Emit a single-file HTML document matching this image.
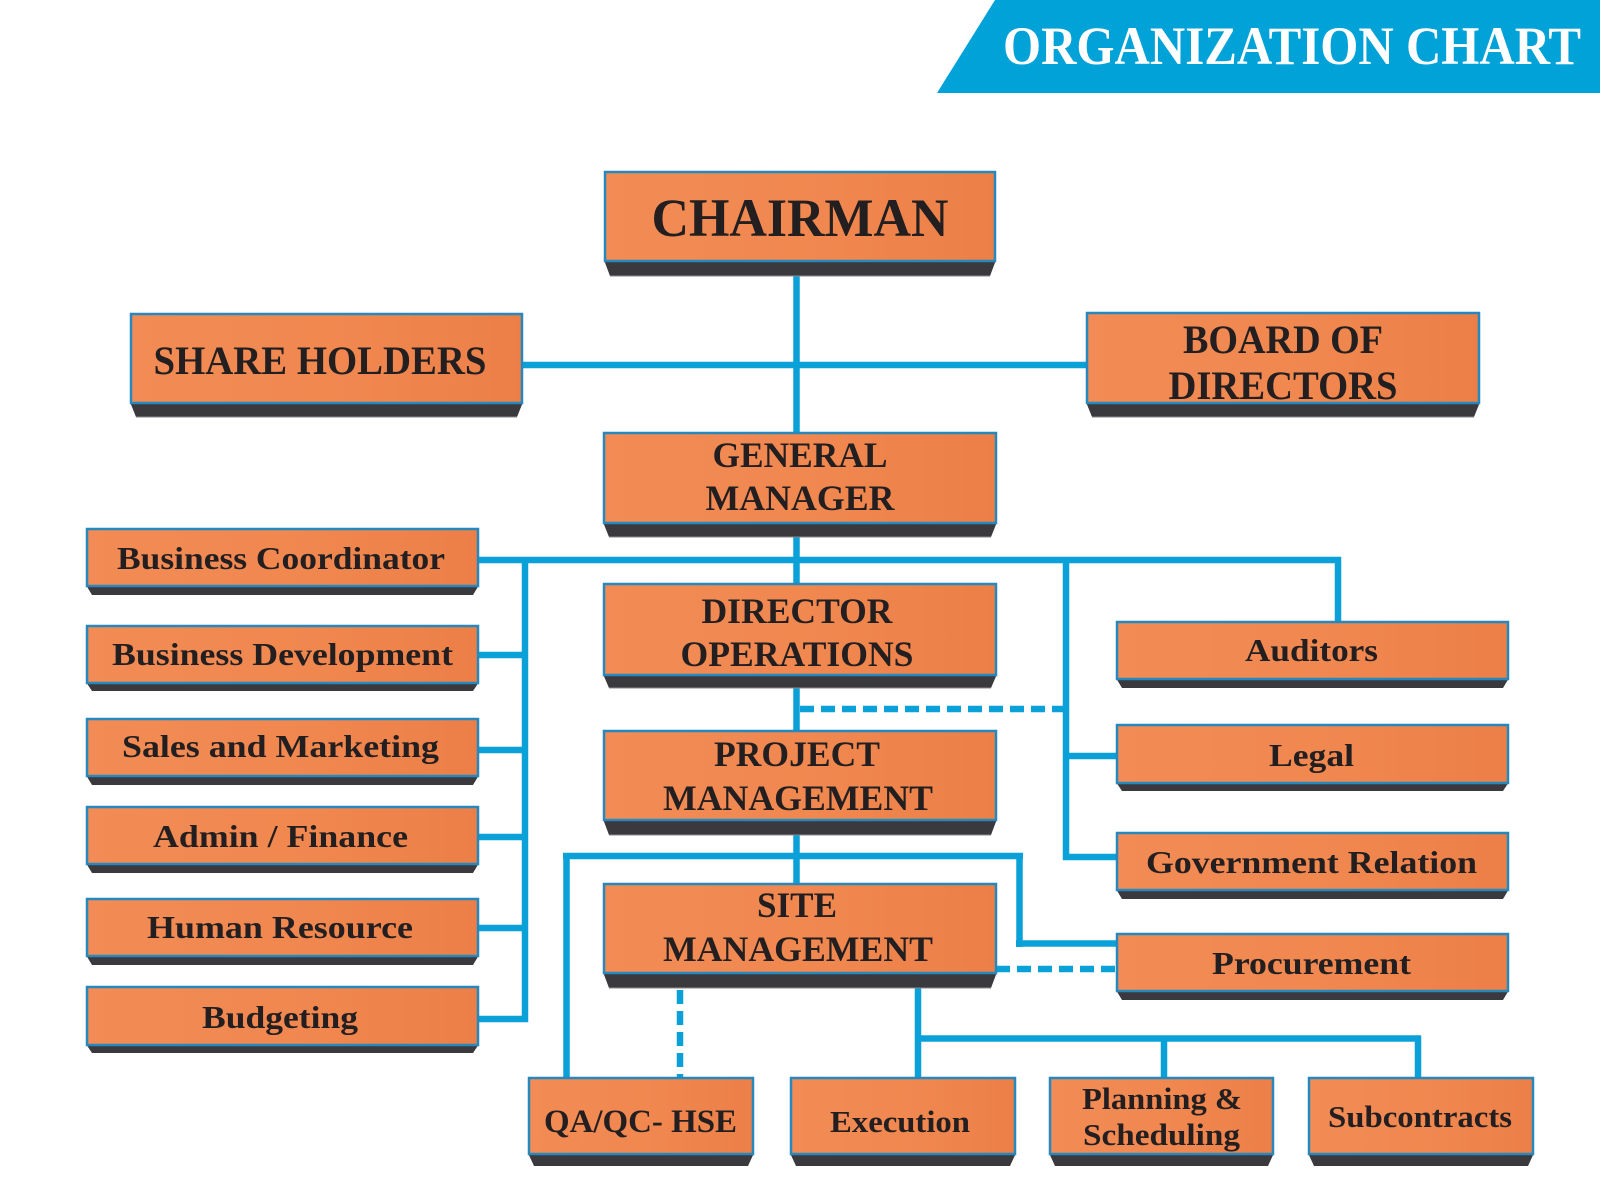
<!DOCTYPE html>
<html>
<head>
<meta charset="utf-8">
<style>
  html,body{margin:0;padding:0;background:#fff;}
  svg{display:block;}
  .t{font-family:"Liberation Serif","Times New Roman",serif;font-weight:bold;fill:#231f20;text-anchor:middle;}
</style>
</head>
<body>
<svg width="1600" height="1200" viewBox="0 0 1600 1200" xmlns="http://www.w3.org/2000/svg">
  <defs>
    <linearGradient id="og" x1="0" y1="0" x2="1" y2="0">
      <stop offset="0" stop-color="#f28b55"/>
      <stop offset="0.6" stop-color="#f0874f"/>
      <stop offset="1" stop-color="#eb7f47"/>
    </linearGradient>
  </defs>
  <rect width="1600" height="1200" fill="#ffffff"/>

  <!-- Banner -->
  <polygon points="995,0 1600,0 1600,93 937,93" fill="#00a2d8"/>
  <text x="1003" y="64" font-family="Liberation Serif, serif" font-weight="bold" font-size="54" fill="#ffffff" textLength="578" lengthAdjust="spacingAndGlyphs">ORGANIZATION CHART</text>

  <!-- Connectors (solid) -->
  <g stroke="#0aa0d8" stroke-width="6.5" fill="none" stroke-linecap="butt">
    <!-- central spine -->
    <line x1="796.5" y1="270" x2="796.5" y2="888"/>
    <!-- shareholders - board -->
    <line x1="520" y1="365" x2="1090" y2="365"/>
    <!-- business line -->
    <line x1="476" y1="560" x2="1341" y2="560"/>
    <line x1="1338" y1="557" x2="1338" y2="624"/>
    <!-- left column -->
    <line x1="525" y1="557" x2="525" y2="1022"/>
    <line x1="476" y1="655" x2="528" y2="655"/>
    <line x1="476" y1="750" x2="528" y2="750"/>
    <line x1="476" y1="837" x2="528" y2="837"/>
    <line x1="476" y1="928" x2="528" y2="928"/>
    <line x1="476" y1="1019" x2="528" y2="1019"/>
    <!-- right column -->
    <line x1="1066" y1="557" x2="1066" y2="860"/>
    <line x1="1063" y1="756" x2="1119" y2="756"/>
    <line x1="1063" y1="857" x2="1119" y2="857"/>
    <!-- project management branch -->
    <line x1="563" y1="856" x2="1023" y2="856"/>
    <line x1="566.5" y1="853" x2="566.5" y2="1080"/>
    <line x1="1019.5" y1="853" x2="1019.5" y2="947"/>
    <line x1="1016" y1="943.5" x2="1119" y2="943.5"/>
    <!-- site management branch -->
    <line x1="918" y1="986" x2="918" y2="1080"/>
    <line x1="915" y1="1038.5" x2="1421" y2="1038.5"/>
    <line x1="1164" y1="1036" x2="1164" y2="1080"/>
    <line x1="1418" y1="1036" x2="1418" y2="1080"/>
  </g>
  <!-- Connectors (dashed) -->
  <g stroke="#0aa0d8" stroke-width="6.5" fill="none" stroke-dasharray="14 7">
    <line x1="800" y1="709" x2="1063" y2="709"/>
    <line x1="996" y1="969" x2="1117" y2="969"/>
    <line x1="680" y1="990" x2="680" y2="1078"/>
  </g>

  <!-- Box template: slab then rect -->
  <!-- CHAIRMAN -->
  <g>
    <polygon points="604,260 996,260 990,276 610,276" fill="#3a393e"/>
    <line x1="610" y1="276" x2="990" y2="276" stroke="#8a8a8e" stroke-width="1"/>
    <rect x="605" y="172" width="390" height="89" fill="url(#og)" stroke="#2688bd" stroke-width="2.5"/>
    <text class="t" x="800" y="236" font-size="54" textLength="297" lengthAdjust="spacingAndGlyphs">CHAIRMAN</text>
  </g>
  <!-- SHARE HOLDERS -->
  <g>
    <polygon points="130,402 523,402 517,417 136,417" fill="#3a393e"/>
    <line x1="136" y1="417" x2="517" y2="417" stroke="#8a8a8e" stroke-width="1"/>
    <rect x="131" y="314" width="391" height="89" fill="url(#og)" stroke="#2688bd" stroke-width="2.5"/>
    <text class="t" x="320" y="374" font-size="40" textLength="333" lengthAdjust="spacingAndGlyphs">SHARE HOLDERS</text>
  </g>
  <!-- BOARD OF DIRECTORS -->
  <g>
    <polygon points="1086,402 1480,402 1474,417 1092,417" fill="#3a393e"/>
    <line x1="1092" y1="417" x2="1474" y2="417" stroke="#8a8a8e" stroke-width="1"/>
    <rect x="1087" y="313" width="392" height="90" fill="url(#og)" stroke="#2688bd" stroke-width="2.5"/>
    <text class="t" x="1283" y="353" font-size="40" textLength="200" lengthAdjust="spacingAndGlyphs">BOARD OF</text>
    <text class="t" x="1283" y="399" font-size="40" textLength="229" lengthAdjust="spacingAndGlyphs">DIRECTORS</text>
  </g>
  <!-- GENERAL MANAGER -->
  <g>
    <polygon points="603,522 997,522 991,537 609,537" fill="#3a393e"/>
    <line x1="609" y1="537" x2="991" y2="537" stroke="#8a8a8e" stroke-width="1"/>
    <rect x="604" y="433" width="392" height="90" fill="url(#og)" stroke="#2688bd" stroke-width="2.5"/>
    <text class="t" x="800" y="467" font-size="36" textLength="175" lengthAdjust="spacingAndGlyphs">GENERAL</text>
    <text class="t" x="800" y="510" font-size="36" textLength="189" lengthAdjust="spacingAndGlyphs">MANAGER</text>
  </g>
  <!-- DIRECTOR OPERATIONS -->
  <g>
    <polygon points="603,674 997,674 991,688 609,688" fill="#3a393e"/>
    <line x1="609" y1="688" x2="991" y2="688" stroke="#8a8a8e" stroke-width="1"/>
    <rect x="604" y="584" width="392" height="91" fill="url(#og)" stroke="#2688bd" stroke-width="2.5"/>
    <text class="t" x="797" y="623" font-size="36" textLength="191" lengthAdjust="spacingAndGlyphs">DIRECTOR</text>
    <text class="t" x="797" y="666" font-size="36" textLength="233" lengthAdjust="spacingAndGlyphs">OPERATIONS</text>
  </g>
  <!-- PROJECT MANAGEMENT -->
  <g>
    <polygon points="603,819 997,819 991,835 609,835" fill="#3a393e"/>
    <line x1="609" y1="835" x2="991" y2="835" stroke="#8a8a8e" stroke-width="1"/>
    <rect x="604" y="731" width="392" height="89" fill="url(#og)" stroke="#2688bd" stroke-width="2.5"/>
    <text class="t" x="797" y="766" font-size="36" textLength="166" lengthAdjust="spacingAndGlyphs">PROJECT</text>
    <text class="t" x="798" y="810" font-size="36" textLength="270" lengthAdjust="spacingAndGlyphs">MANAGEMENT</text>
  </g>
  <!-- SITE MANAGEMENT -->
  <g>
    <polygon points="603,972 997,972 991,988 609,988" fill="#3a393e"/>
    <line x1="609" y1="988" x2="991" y2="988" stroke="#8a8a8e" stroke-width="1"/>
    <rect x="604" y="884" width="392" height="89" fill="url(#og)" stroke="#2688bd" stroke-width="2.5"/>
    <text class="t" x="797" y="917" font-size="36" textLength="80" lengthAdjust="spacingAndGlyphs">SITE</text>
    <text class="t" x="798" y="961" font-size="36" textLength="270" lengthAdjust="spacingAndGlyphs">MANAGEMENT</text>
  </g>

  <!-- Left column -->
  <g>
    <polygon points="86,585 479,585 473,595 92,595" fill="#3a393e"/>
    <rect x="87" y="529" width="391" height="57" fill="url(#og)" stroke="#2688bd" stroke-width="2.5"/>
    <text class="t" x="281" y="569" font-size="32" textLength="328" lengthAdjust="spacingAndGlyphs">Business Coordinator</text>
  </g>
  <g>
    <polygon points="86,682 479,682 473,691 92,691" fill="#3a393e"/>
    <rect x="87" y="626" width="391" height="57" fill="url(#og)" stroke="#2688bd" stroke-width="2.5"/>
    <text class="t" x="282.5" y="665" font-size="32" textLength="341" lengthAdjust="spacingAndGlyphs">Business Development</text>
  </g>
  <g>
    <polygon points="86,775 479,775 473,785 92,785" fill="#3a393e"/>
    <rect x="87" y="719" width="391" height="57" fill="url(#og)" stroke="#2688bd" stroke-width="2.5"/>
    <text class="t" x="280.5" y="757" font-size="32" textLength="317" lengthAdjust="spacingAndGlyphs">Sales and Marketing</text>
  </g>
  <g>
    <polygon points="86,863 479,863 473,873 92,873" fill="#3a393e"/>
    <rect x="87" y="807" width="391" height="57" fill="url(#og)" stroke="#2688bd" stroke-width="2.5"/>
    <text class="t" x="280.5" y="847" font-size="32" textLength="255" lengthAdjust="spacingAndGlyphs">Admin / Finance</text>
  </g>
  <g>
    <polygon points="86,955 479,955 473,965 92,965" fill="#3a393e"/>
    <rect x="87" y="899" width="391" height="57" fill="url(#og)" stroke="#2688bd" stroke-width="2.5"/>
    <text class="t" x="280" y="938" font-size="32" textLength="266" lengthAdjust="spacingAndGlyphs">Human Resource</text>
  </g>
  <g>
    <polygon points="86,1044 479,1044 473,1053 92,1053" fill="#3a393e"/>
    <rect x="87" y="987" width="391" height="58" fill="url(#og)" stroke="#2688bd" stroke-width="2.5"/>
    <text class="t" x="280" y="1028" font-size="32" textLength="156" lengthAdjust="spacingAndGlyphs">Budgeting</text>
  </g>

  <!-- Right column -->
  <g>
    <polygon points="1116,678 1509,678 1503,688 1122,688" fill="#3a393e"/>
    <rect x="1117" y="622" width="391" height="57" fill="url(#og)" stroke="#2688bd" stroke-width="2.5"/>
    <text class="t" x="1311.5" y="661" font-size="32" textLength="133" lengthAdjust="spacingAndGlyphs">Auditors</text>
  </g>
  <g>
    <polygon points="1116,782 1509,782 1503,791 1122,791" fill="#3a393e"/>
    <rect x="1117" y="725" width="391" height="58" fill="url(#og)" stroke="#2688bd" stroke-width="2.5"/>
    <text class="t" x="1311.5" y="766" font-size="32" textLength="85" lengthAdjust="spacingAndGlyphs">Legal</text>
  </g>
  <g>
    <polygon points="1116,889 1509,889 1503,899 1122,899" fill="#3a393e"/>
    <rect x="1117" y="833" width="391" height="57" fill="url(#og)" stroke="#2688bd" stroke-width="2.5"/>
    <text class="t" x="1311.5" y="873" font-size="32" textLength="331" lengthAdjust="spacingAndGlyphs">Government Relation</text>
  </g>
  <g>
    <polygon points="1116,990 1509,990 1503,1000 1122,1000" fill="#3a393e"/>
    <rect x="1117" y="934" width="391" height="57" fill="url(#og)" stroke="#2688bd" stroke-width="2.5"/>
    <text class="t" x="1311.5" y="974" font-size="32" textLength="199" lengthAdjust="spacingAndGlyphs">Procurement</text>
  </g>

  <!-- Bottom row -->
  <g>
    <polygon points="528,1153 754,1153 748,1166 534,1166" fill="#3a393e"/>
    <rect x="529" y="1078" width="224" height="76" fill="url(#og)" stroke="#2688bd" stroke-width="2.5"/>
    <text class="t" x="640.5" y="1132" font-size="33" textLength="193" lengthAdjust="spacingAndGlyphs">QA/QC- HSE</text>
  </g>
  <g>
    <polygon points="790,1153 1016,1153 1010,1166 796,1166" fill="#3a393e"/>
    <rect x="791" y="1078" width="224" height="76" fill="url(#og)" stroke="#2688bd" stroke-width="2.5"/>
    <text class="t" x="900" y="1132" font-size="31" textLength="140" lengthAdjust="spacingAndGlyphs">Execution</text>
  </g>
  <g>
    <polygon points="1049,1153 1274,1153 1268,1166 1055,1166" fill="#3a393e"/>
    <rect x="1050" y="1078" width="223" height="76" fill="url(#og)" stroke="#2688bd" stroke-width="2.5"/>
    <text class="t" x="1162" y="1109" font-size="31" textLength="160" lengthAdjust="spacingAndGlyphs">Planning &amp;</text>
    <text class="t" x="1161.5" y="1145" font-size="31" textLength="157" lengthAdjust="spacingAndGlyphs">Scheduling</text>
  </g>
  <g>
    <polygon points="1308,1153 1534,1153 1528,1166 1314,1166" fill="#3a393e"/>
    <rect x="1309" y="1078" width="224" height="76" fill="url(#og)" stroke="#2688bd" stroke-width="2.5"/>
    <text class="t" x="1420" y="1127" font-size="31" textLength="184" lengthAdjust="spacingAndGlyphs">Subcontracts</text>
  </g>
</svg>
</body>
</html>
